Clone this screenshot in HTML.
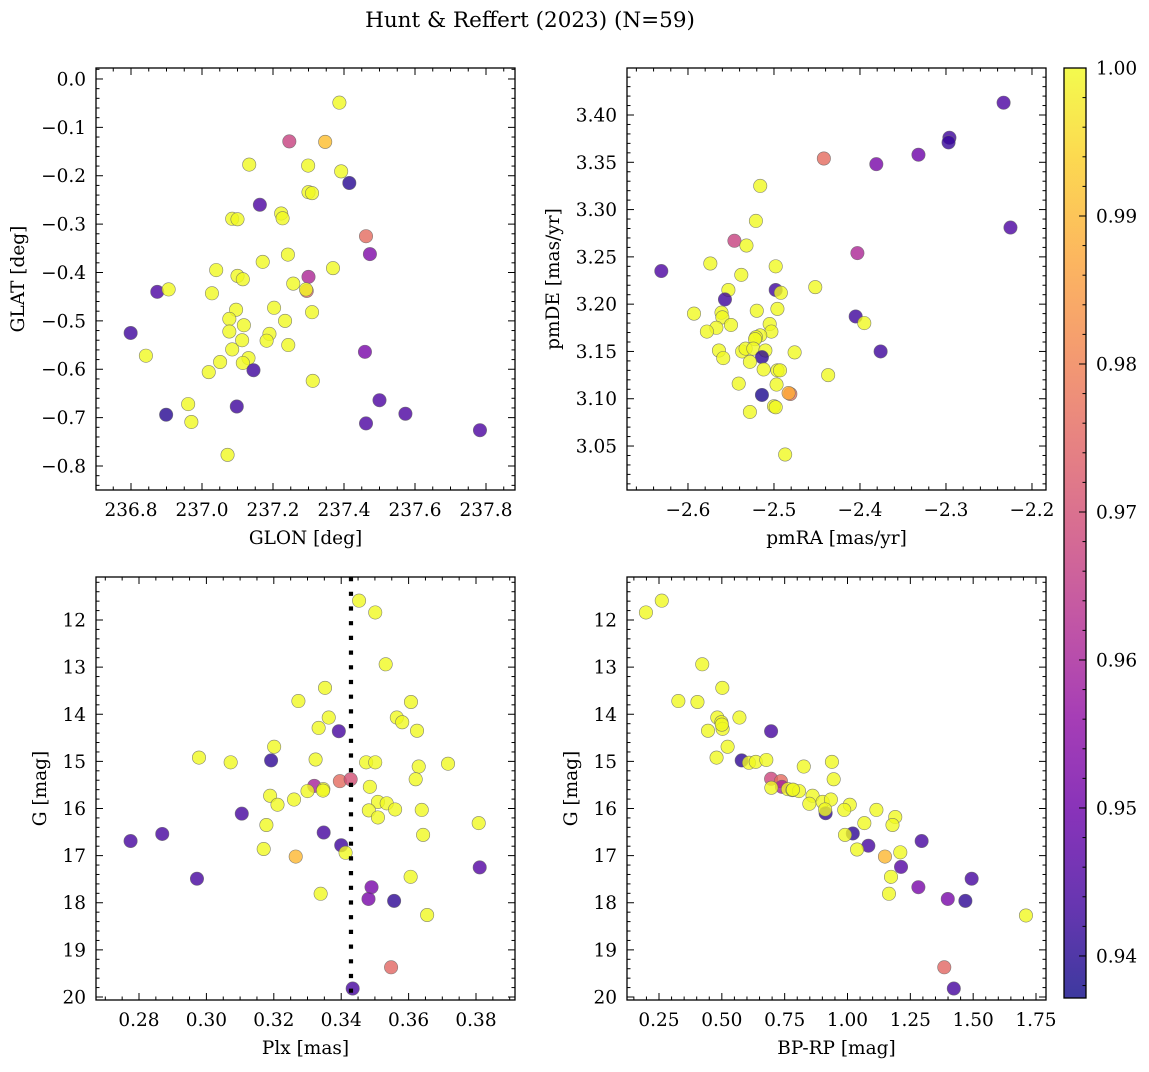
<!DOCTYPE html>
<html><head><meta charset="utf-8"><style>
html,body{margin:0;padding:0;background:#fff}
svg text{font-family:"DejaVu Serif","Liberation Serif",serif;fill:#000}
</style></head><body>
<svg id="fig" width="1149" height="1067" viewBox="0 0 1149 1067" xmlns="http://www.w3.org/2000/svg">
<text x="530" y="27" font-size="21.5" text-anchor="middle">Hunt &amp; Reffert (2023) (N=59)</text>
</svg>
<script>
// ---- data (membership probability colour) ----
const p1_glon=[237.387,237.246,237.347,237.133,237.299,237.392,237.415,237.300,237.310,237.163,237.223,237.227,237.085,237.100,237.462,237.473,237.242,237.171,237.369,237.040,237.100,237.115,237.300,237.257,237.295,237.293,236.874,236.906,237.028,237.096,237.203,237.310,237.077,237.234,237.118,237.077,236.799,237.190,237.182,237.113,237.243,237.085,237.459,236.842,237.051,237.131,237.115,237.145,237.019,237.312,237.500,236.961,237.098,236.899,237.573,236.970,237.462,237.783,237.072];
const p1_glat=[-0.049,-0.129,-0.130,-0.177,-0.179,-0.191,-0.215,-0.234,-0.236,-0.260,-0.278,-0.288,-0.289,-0.290,-0.325,-0.362,-0.363,-0.378,-0.391,-0.395,-0.407,-0.414,-0.409,-0.423,-0.438,-0.435,-0.440,-0.435,-0.443,-0.477,-0.473,-0.482,-0.496,-0.500,-0.509,-0.522,-0.525,-0.527,-0.541,-0.540,-0.550,-0.559,-0.564,-0.572,-0.585,-0.577,-0.587,-0.602,-0.606,-0.624,-0.664,-0.672,-0.677,-0.694,-0.692,-0.709,-0.712,-0.726,-0.777];
const p1_prob=[1,0.967,0.991,1,1,1,0.940,1,1,0.945,1,1,1,1,0.976,0.953,1,1,1,1,1,1,0.961,1,0.976,1,0.945,1,1,1,1,1,1,1,1,1,0.943,1,1,1,1,1,0.952,1,1,1,1,0.943,1,1,0.945,1,0.943,0.940,0.945,1,0.945,0.945,1];

const p2_pmra=[-2.233,-2.296,-2.297,-2.332,-2.381,-2.442,-2.516,-2.521,-2.225,-2.546,-2.532,-2.403,-2.574,-2.498,-2.631,-2.538,-2.452,-2.553,-2.498,-2.492,-2.557,-2.520,-2.496,-2.593,-2.561,-2.560,-2.405,-2.395,-2.550,-2.567,-2.578,-2.505,-2.503,-2.516,-2.521,-2.522,-2.564,-2.559,-2.537,-2.533,-2.524,-2.510,-2.514,-2.476,-2.376,-2.528,-2.512,-2.496,-2.493,-2.437,-2.541,-2.497,-2.514,-2.481,-2.483,-2.500,-2.498,-2.528,-2.487];
const p2_pmde=[3.413,3.376,3.371,3.358,3.348,3.354,3.325,3.288,3.281,3.267,3.262,3.254,3.243,3.240,3.235,3.231,3.218,3.215,3.215,3.212,3.205,3.193,3.195,3.190,3.191,3.186,3.187,3.180,3.178,3.175,3.171,3.179,3.171,3.167,3.165,3.163,3.151,3.143,3.150,3.153,3.153,3.151,3.144,3.149,3.150,3.139,3.131,3.130,3.130,3.125,3.116,3.115,3.104,3.105,3.106,3.092,3.091,3.086,3.041];
const p2_prob=[0.945,0.943,0.942,0.950,0.952,0.976,1,1,0.945,0.967,1,0.961,1,1,0.945,1,1,1,0.943,1,0.943,1,1,1,1,1,0.943,1,1,1,1,1,1,1,1,1,1,1,1,1,1,1,0.941,1,0.943,1,1,1,1,1,1,1,0.939,0.978,0.988,1,1,1,1];

const p3_plx=[0.3453,0.3501,0.3532,0.3352,0.3273,0.3607,0.3363,0.3565,0.3581,0.3333,0.3393,0.3625,0.3201,0.2978,0.3072,0.3192,0.3324,0.3474,0.3501,0.3717,0.3630,0.3621,0.3396,0.3428,0.3320,0.3485,0.3300,0.3347,0.3346,0.3189,0.3211,0.3260,0.3509,0.3535,0.3560,0.3482,0.3639,0.3509,0.3808,0.3105,0.3178,0.3348,0.2869,0.3643,0.2775,0.3400,0.3413,0.3170,0.3265,0.3811,0.3606,0.2972,0.3490,0.3339,0.3481,0.3557,0.3655,0.3548,0.3434];
const p3_g=[11.59,11.84,12.94,13.44,13.72,13.74,14.07,14.07,14.17,14.29,14.36,14.35,14.69,14.92,15.02,14.98,14.96,15.02,15.02,15.05,15.11,15.38,15.42,15.38,15.52,15.54,15.63,15.59,15.62,15.73,15.92,15.81,15.86,15.89,16.02,16.04,16.03,16.19,16.31,16.11,16.35,16.51,16.54,16.56,16.69,16.78,16.94,16.86,17.02,17.25,17.45,17.49,17.67,17.81,17.92,17.96,18.26,19.37,19.82];
const p3_prob=[1,1,1,1,1,1,1,1,1,1,0.944,1,1,1,1,0.941,1,1,1,1,1,1,0.976,0.970,0.960,1,1,1,1,1,1,1,1,1,1,1,1,1,1,0.944,1,0.944,0.944,1,0.944,0.943,1,1,0.990,0.946,1,0.944,0.952,1,0.952,0.941,1,0.975,0.944];
const plxCut=0.3429;

const p4_bprp=[0.198,0.261,0.422,0.502,0.327,0.403,0.570,0.482,0.498,0.503,0.445,0.696,0.523,0.479,0.579,0.608,0.635,0.677,0.826,0.938,0.945,0.696,0.735,0.739,0.697,0.763,0.781,0.807,0.861,0.848,0.901,0.934,0.913,0.911,1.009,0.987,1.115,1.190,1.179,1.067,1.295,1.021,0.990,1.083,1.038,1.149,1.210,1.213,1.173,1.494,1.282,1.165,1.399,1.469,1.710,1.385,1.423,0.500,0.783];
const p4_g=[11.84,11.59,12.94,13.44,13.72,13.74,14.07,14.07,14.17,14.31,14.35,14.36,14.69,14.92,14.98,15.03,15.01,14.97,15.11,15.01,15.38,15.37,15.42,15.54,15.56,15.59,15.61,15.63,15.73,15.90,15.86,15.81,16.10,16.02,15.92,16.03,16.03,16.18,16.35,16.31,16.69,16.53,16.56,16.79,16.87,17.02,16.93,17.24,17.45,17.49,17.67,17.81,17.92,17.96,18.27,19.37,19.82,14.22,15.60];
const p4_prob=[1,1,1,1,1,1,1,1,1,1,1,0.944,1,1,0.941,1,1,1,1,1,1,0.968,0.976,0.960,1,1,1,1,1,1,1,1,0.941,1,1,1,1,1,1,1,0.944,0.941,1,0.944,1,0.990,1,0.946,1,0.944,0.952,1,0.952,0.941,1,0.975,0.944,1,1];

const cbTicks=[0.94,0.95,0.96,0.97,0.98,0.99,1.00];
const cMin=0.93716, cMax=1.0;

// ---- rendering ----
const NS="http://www.w3.org/2000/svg";
const svg=document.getElementById('fig');
const FS=18.5;
function mk(tag,attrs,parent){const e=document.createElementNS(NS,tag);for(const k in attrs)e.setAttribute(k,attrs[k]);(parent||svg).appendChild(e);return e;}
const PL=["#0d0887","#41049d","#6a00a8","#8f0da4","#b12a90","#cc4778","#e16462","#f2844b","#fca636","#fcce25","#f0f921"];
function hx(h){return [1,3,5].map(i=>parseInt(h.substr(i,2),16));}
function plasma(t){t=Math.max(0,Math.min(1,t));const s=t*10,i=Math.min(9,Math.floor(s)),f=s-i;const a=hx(PL[i]),b=hx(PL[i+1]);return 'rgb('+a.map((v,k)=>Math.round(v+(b[k]-v)*f)).join(',')+')';}
function fmt(v,d){return (v<0?'\u2212':'')+Math.abs(v).toFixed(d);}

function panel(cfg){
  const g=mk('g',{},svg);
  
  
  const {x0,x1,y0,y1}=cfg.box;
  const sx=v=>x0+(v-cfg.xd[0])/(cfg.xd[1]-cfg.xd[0])*(x1-x0);
  const sy=v=>y0+(v-cfg.yd[0])/(cfg.yd[1]-cfg.yd[0])*(y1-y0);
  const pg=mk('g',{},g);
  
  
  for(let i=0;i<cfg.xs.length;i++){
    const c=mk('circle',{cx:sx(cfg.xs[i]),cy:sy(cfg.ys[i]),r:6.7,fill:plasma((cfg.cs[i]-cMin)/(cMax-cMin)),'fill-opacity':0.8,stroke:'#666','stroke-opacity':0.8,'stroke-width':0.6},pg);
    
    
  }
  if(cfg.vline!==undefined){
    const l=mk('line',{x1:sx(cfg.vline),x2:sx(cfg.vline),y1:y0,y2:y1,stroke:'#000','stroke-width':4.2,'stroke-dasharray':'4.2 10.5'},g);
    
    
  }
  const fr=mk('rect',{x:x0,y:Math.min(y0,y1),width:x1-x0,height:Math.abs(y1-y0),fill:'none',stroke:'#000','stroke-width':1.3},g);
  
  
  const top=Math.min(y0,y1),bot=Math.max(y0,y1);
  const xa=mk('g',{},g);
  
  
  const eps=1e-9;
  let xs0=Math.ceil((cfg.xd[0]-eps)/cfg.xmin)*cfg.xmin;
  for(let v=xs0;v<=cfg.xd[1]+eps;v+=cfg.xmin){
    const isMaj=Math.abs(v/cfg.xmaj-Math.round(v/cfg.xmaj))<1e-6;
    const L=isMaj?7:3.5,px=sx(v);
    mk('line',{x1:px,x2:px,y1:bot,y2:bot-L,stroke:'#000','stroke-width':1},xa);
    mk('line',{x1:px,x2:px,y1:top,y2:top+L,stroke:'#000','stroke-width':1},xa);
    if(isMaj){const t=mk('text',{x:px,y:bot+26,'font-size':FS,'text-anchor':'middle'},xa);t.textContent=fmt(Math.round(v/cfg.xmaj)*cfg.xmaj,cfg.xdec);
      
      }
  }
  const ya=mk('g',{},g);
  
  
  const ylo=Math.min(...cfg.yd),yhi=Math.max(...cfg.yd);
  for(let v=Math.ceil((ylo-eps)/cfg.ymin)*cfg.ymin;v<=yhi+eps;v+=cfg.ymin){
    const isMaj=Math.abs(v/cfg.ymaj-Math.round(v/cfg.ymaj))<1e-6;
    const L=isMaj?7:3.5,py=sy(v);
    mk('line',{x1:x0,x2:x0+L,y1:py,y2:py,stroke:'#000','stroke-width':1},ya);
    mk('line',{x1:x1,x2:x1-L,y1:py,y2:py,stroke:'#000','stroke-width':1},ya);
    if(isMaj){const t=mk('text',{x:x0-10,y:py+6.5,'font-size':FS,'text-anchor':'end'},ya);t.textContent=fmt(Math.round(v/cfg.ymaj)*cfg.ymaj,cfg.ydec);
      
      }
  }
  const xl=mk('text',{x:(x0+x1)/2,y:bot+54,'font-size':FS,'text-anchor':'middle'},g);xl.textContent=cfg.xlabel;
  
  
  const yc=(top+bot)/2;
  const yl=mk('text',{x:cfg.ylx,y:yc,'font-size':FS,'text-anchor':'middle',transform:'rotate(-90 '+cfg.ylx+' '+yc+')'},g);yl.textContent=cfg.ylabel;
  
  
}

panel({name:'glon-glat-panel',box:{x0:96,x1:515,y0:490,y1:68},xd:[236.7014,237.8817],yd:[-0.8496,0.0227],xs:p1_glon,ys:p1_glat,cs:p1_prob,xmaj:0.2,xmin:0.05,xdec:1,ymaj:0.1,ymin:0.02,ydec:1,xlabel:'GLON [deg]',ylabel:'GLAT [deg]',ylx:24});
panel({name:'proper-motion-panel',box:{x0:627,x1:1046,y0:490,y1:68},xd:[-2.6709,-2.1837],yd:[3.0035,3.4497],xs:p2_pmra,ys:p2_pmde,cs:p2_prob,xmaj:0.1,xmin:0.02,xdec:1,ymaj:0.05,ymin:0.01,ydec:2,xlabel:'pmRA [mas/yr]',ylabel:'pmDE [mas/yr]',ylx:559});
panel({name:'parallax-mag-panel',box:{x0:96,x1:515,y0:577,y1:1000},xd:[0.26724,0.39157],yd:[11.0875,20.0637],xs:p3_plx,ys:p3_g,cs:p3_prob,xmaj:0.02,xmin:0.005,xdec:2,ymaj:1,ymin:0.2,ydec:0,xlabel:'Plx [mas]',ylabel:'G [mag]',ylx:46,vline:plxCut});
panel({name:'cmd-panel',box:{x0:627,x1:1046,y0:577,y1:1000},xd:[0.12266,1.78979],yd:[11.0875,20.0637],xs:p4_bprp,ys:p4_g,cs:p4_prob,xmaj:0.25,xmin:0.05,xdec:2,ymaj:1,ymin:0.2,ydec:0,xlabel:'BP-RP [mag]',ylabel:'G [mag]',ylx:577});

const cb=mk('g',{},svg);


const defs=mk('defs',{},svg);
const lg=mk('linearGradient',{id:'pg',x1:0,y1:1,x2:0,y2:0},defs);
for(let i=0;i<=20;i++){mk('stop',{offset:(i/20),'stop-color':plasma(i/20),'stop-opacity':0.8},lg);}
const cbx0=1064,cbx1=1086,cby0=998,cby1=68;
mk('rect',{x:cbx0,y:cby1,width:cbx1-cbx0,height:cby0-cby1,fill:'url(#pg)',stroke:'#000','stroke-width':1.3},cb);
const cy=v=>cby0+(v-cMin)/(cMax-cMin)*(cby1-cby0);
for(let k=0;k<=40;k++){const v=0.938+k*0.002;if(v>cMax+1e-9)break;const py=cy(v);mk('line',{x1:cbx1,x2:cbx1-3.5,y1:py,y2:py,stroke:'#000','stroke-width':1},cb);}
cbTicks.forEach(v=>{const py=cy(v);mk('line',{x1:cbx1,x2:cbx1-7,y1:py,y2:py,stroke:'#000','stroke-width':1},cb);
  const t=mk('text',{x:1096,y:py+6.5,'font-size':FS},cb);t.textContent=v.toFixed(2);
  
  });
</script>
</body></html>
